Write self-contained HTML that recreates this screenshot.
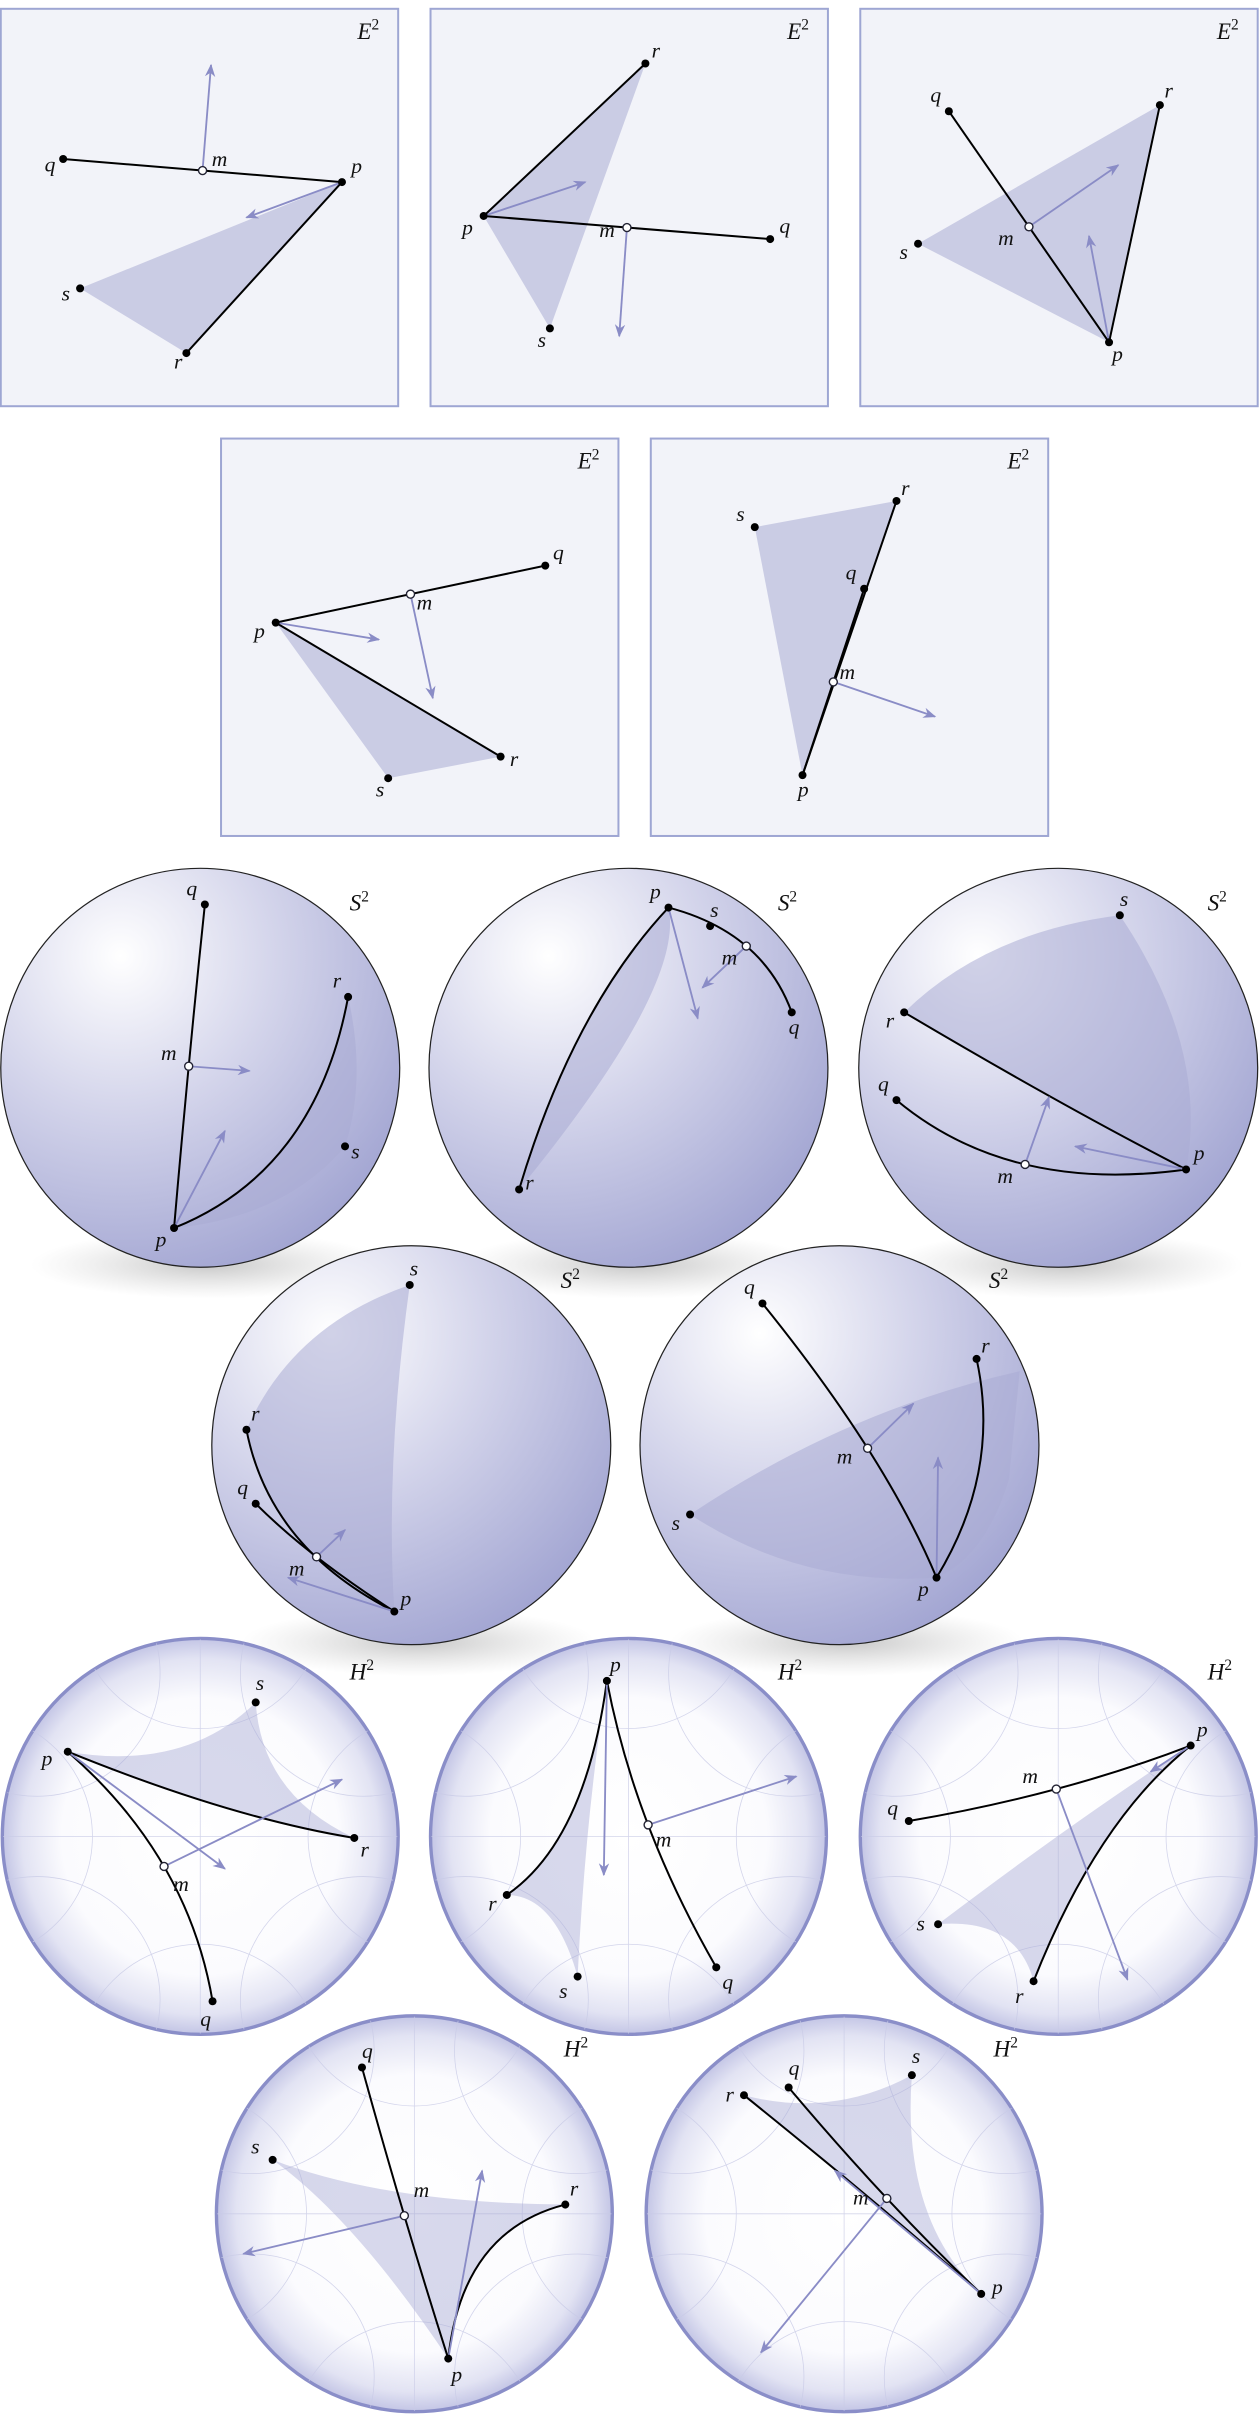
<!DOCTYPE html>
<html><head><meta charset="utf-8"><style>
html,body{margin:0;padding:0;background:#fff;overflow:hidden;width:1260px;height:2419px}
svg{display:block}
text{font-family:"Liberation Serif",serif;font-style:italic;fill:#111}
</style></head><body>
<svg id="fig" width="1260" height="2419" viewBox="0 0 818 1570" xmlns="http://www.w3.org/2000/svg">
<defs>
<radialGradient id="sph" cx="0.3" cy="0.22" r="0.85">
<stop offset="0" stop-color="#ffffff"/><stop offset="0.45" stop-color="#d4d5eb"/><stop offset="1" stop-color="#a2a5d2"/>
</radialGradient>
<radialGradient id="hyp" cx="0.5" cy="0.5" r="0.5">
<stop offset="0" stop-color="#ffffff"/><stop offset="0.7" stop-color="#fbfbfe"/><stop offset="0.9" stop-color="#e2e3f3"/><stop offset="1" stop-color="#c3c5e5"/>
</radialGradient>
<radialGradient id="shd" cx="0.5" cy="0.5" r="0.5">
<stop offset="0" stop-color="#9a9a9a" stop-opacity="0.55"/><stop offset="1" stop-color="#bbbbbb" stop-opacity="0"/>
</radialGradient>
<marker id="ah" viewBox="0 0 10 10" refX="9" refY="5" markerWidth="7" markerHeight="7" orient="auto-start-reverse">
<path d="M0,1 L10,5 L0,9 L3,5 z" fill="#8a8cc6"/></marker>
</defs>
<g id="root"></g>
</svg>
<script>
// panel kinds and positions
const kinds = ["E","E","E","E","E","S","S","S","S","S","H","H","H","H","H"];
const anchors = [[0,5],[279,5],[558,5],[143,284],[422,284],
 [130,693],[408,693],[687,693],[267,938],[545,938],
 [130,1192],[408,1192],[687,1192],[269,1437],[548,1437]];
// points: name -> [x,y,labelDx,labelDy]
const points = [
 {q:[41,103,-12,8],p:[222,118,6,-6],s:[52,187,-12,8],r:[121,229,-8,10]},
 {r:[419,41,4,-4],p:[314,140,-14,12],q:[500,155,6,-4],s:[357,213,-8,12]},
 {q:[616,72,-12,-6],r:[753,68,3,-5],s:[596,158,-12,10],p:[720,222,2,12]},
 {p:[179,404,-14,10],q:[354,367,5,-4],r:[325,491,6,6],s:[252,505,-8,12]},
 {s:[490,342,-12,-4],r:[582,325,3,-4],q:[561,382,-12,-6],p:[521,503,-3,14]},
 {q:[133,587,-12,-6],p:[113,797,-12,12],r:[226,647,-10,-6],s:[224,744,4,8]},
 {p:[434,589,-12,-6],s:[461,601,0,-6],q:[514,657,-2,14],r:[337,772,4,0]},
 {s:[727,594,0,-6],r:[587,657,-12,10],q:[582,714,-12,-6],p:[770,759,5,-6]},
 {s:[266,834,0,-6],r:[160,928,3,-6],q:[166,976,-12,-6],p:[256,1046,4,-4]},
 {q:[495,846,-12,-6],r:[634,882,3,-4],s:[448,983,-12,10],p:[608,1024,-12,12]},
 {p:[44,1137,-17,9],s:[166,1105,0,-8],r:[230,1193,4,12],q:[138,1299,-8,16]},
 {p:[394,1091,2,-6],r:[329,1230,-12,10],s:[375,1283,-12,14],q:[465,1277,4,14]},
 {p:[773,1133,4,-6],q:[590,1182,-14,-4],s:[609,1249,-14,4],r:[671,1286,-12,14]},
 {q:[235,1342,0,-6],s:[177,1402,-14,-4],r:[367,1431,3,-6],p:[291,1531,2,15]},
 {r:[483,1360,-12,4],q:[512,1355,0,-8],s:[592,1347,0,-8],p:[637,1489,7,0]}
];
// m label offsets [dx,dy] and which segment m bisects
const midLabel = [[6,-3],[-18,6],[-20,12],[4,10],[4,-2],
 [-18,-4],[-16,12],[-18,12],[-18,12],[-20,10],
 [6,16],[5,14],[-22,-4],[6,-12],[-22,4]];
const midSeg = [0,1,0,0,1, 0,1,1,1,0, 1,1,0,0,1];
// segments: [from,to,ctrlX,ctrlY]
const segs = [
 [["q","p"],["p","r"]],[["p","r"],["p","q"]],[["q","p"],["r","p"]],[["p","q"],["p","r"]],[["p","r"],["p","q"]],
 [["q","p",122,692],["p","r",205,760]],[["p","r",372,655],["p","q",495,605]],[["r","p",690,718],["q","p",655,775]],
 [["r","p",175,1005],["q","p",200,1010]],[["q","p",575,945],["r","p",650,955]],
 [["p","r",150,1180],["p","q",122,1205]],[["p","r",380,1195],["p","q",412,1185]],[["q","p",690,1165],["p","r",712,1182]],
 [["q","p",262,1440],["r","p",300,1448]],[["r","p",570,1430],["q","p",577,1432]]
];
// shaded regions
const shades = [
 "M52,187 L222,118 L121,229Z","M314,140 L419,41 L357,213Z","M596,158 L753,68 L720,222Z",
 "M179,404 L325,491 L252,505Z","M490,342 L582,325 L521,503Z",
 "M113,797 Q205,760 226,647 Q238,700 224,744 Q185,790 113,797Z",
 "M337,772 Q372,655 434,589 Q445,640 337,772Z",
 "M727,594 Q785,680 770,759 Q690,718 587,657 Q640,605 727,594Z",
 "M266,834 Q250,950 256,1046 Q175,1005 160,928 Q190,860 266,834Z",
 "M448,983 Q550,915 662,890 L655,960 Q640,1010 608,1024 Q520,1030 448,983Z",
 "M44,1137 Q120,1150 166,1105 Q170,1165 230,1193 Q150,1180 44,1137Z",
 "M394,1091 Q380,1195 329,1230 Q360,1230 375,1283 Q380,1180 394,1091Z",
 "M773,1133 Q712,1182 671,1286 Q660,1245 609,1249 Q700,1180 773,1133Z",
 "M177,1402 Q250,1430 367,1431 Q300,1448 291,1531 Q230,1440 177,1402Z",
 "M483,1360 Q540,1375 592,1347 Q585,1440 637,1489 Q570,1430 483,1360Z"
];
// arrows: m-arrow tip, p-arrow tip
const mArrowTip = [[137,42],[402,218],[726,107],[281,453],[607,465],
 [162,695],[456,641],[681,712],[224,993],[593,911],
 [222,1155],[517,1153],[732,1285],[158,1463],[494,1527]];
const pArrowTip = [[160,141],[380,118],[707,153],[246,415],null,
 [146,734],[453,661],[698,744],[187,1024],[609,946],
 [146,1213],[392,1217],[747,1150],[313,1409],[542,1409]];
const NS="http://www.w3.org/2000/svg";
const root=document.getElementById('root');
const defs=document.querySelector('defs');
function mk(tag,attrs,parent){const e=document.createElementNS(NS,tag);for(const k in attrs)e.setAttribute(k,attrs[k]);(parent||root).appendChild(e);return e;}
kinds.forEach((k,i)=>{
 const g=mk('g',{});
 
 
 const [ax,ay]=anchors[i];
 let lx,ly,inner=g;
 if(k==="E"){
  const b=mk('rect',{x:ax+0.5,y:ay+0.5,width:258,height:258,fill:'#f2f3f9',stroke:'#9ea6d3','stroke-width':1.3},g);
  
  
  lx=ax+232;ly=ay+20;
 } else {
  const cp=mk('clipPath',{id:'clip'+i},defs);
  mk('circle',{cx:ax,cy:ay,r:128.5},cp);
  if(k==="S"){
   const sh=mk('ellipse',{cx:ax+5,cy:ay+128,rx:115,ry:22,fill:'url(#shd)'},g);
   
   
   const c=mk('circle',{cx:ax,cy:ay,r:129.5,fill:'url(#sph)',stroke:'#222','stroke-width':0.8},g);
   
   
  } else {
   const c=mk('circle',{cx:ax,cy:ay,r:128.5,fill:'url(#hyp)',stroke:'#8a8ec8','stroke-width':2.2},g);
   
   
  }
  inner=mk('g',{'clip-path':'url(#clip'+i+')'},g);
  if(k==="H"){
   const grid=mk('g',{fill:'none',stroke:'#c9cbe6','stroke-width':0.5,opacity:0.8},inner);
   
   
   mk('line',{x1:ax-128,y1:ay,x2:ax+128,y2:ay},grid);
   mk('line',{x1:ax,y1:ay-128,x2:ax,y2:ay+128},grid);
   for(let a=0;a<8;a++){const t=a*Math.PI/4;mk('circle',{cx:ax+150*Math.cos(t),cy:ay+150*Math.sin(t),r:80},grid);}
  }
  lx=ax+97;ly=ay-102;
 }
 const sp=mk('path',{d:shades[i],fill:'#a9abd4','fill-opacity':k==="H"?0.45:0.55},inner);
 
 
 const P=points[i];
 let M=null;
 segs[i].forEach((s,si)=>{
  const a=P[s[0]],b=P[s[1]];
  let d,mx,my;
  if(s.length>2){d=`M${a[0]},${a[1]} Q${s[2]},${s[3]} ${b[0]},${b[1]}`;mx=.25*a[0]+.5*s[2]+.25*b[0];my=.25*a[1]+.5*s[3]+.25*b[1];}
  else {d=`M${a[0]},${a[1]} L${b[0]},${b[1]}`;mx=(a[0]+b[0])/2;my=(a[1]+b[1])/2;}
  if(si===midSeg[i])M=[mx,my];
  const l=mk('path',{d,fill:'none',stroke:'#000','stroke-width':1.3},g);
  
  
 });
 const tips=[[M,mArrowTip[i]]];
 if(pArrowTip[i])tips.push([P.p,pArrowTip[i]]);
 tips.forEach(([o,t])=>{
  const l=mk('line',{x1:o[0],y1:o[1],x2:t[0],y2:t[1],stroke:'#8a8cc6','stroke-width':1.2,'marker-end':'url(#ah)'},g);
  
  
 });
 for(const n in P){
  const p=P[n];
  const d=mk('circle',{cx:p[0],cy:p[1],r:2.6,fill:'#000'},g);
  
  
  const t=mk('text',{x:p[0]+p[2],y:p[1]+p[3],'font-size':14},g);
  t.textContent=n;
  
  
 }
 const mc=mk('circle',{cx:M[0],cy:M[1],r:2.6,fill:'#fff',stroke:'#223','stroke-width':0.9},g);
 
 
 const mt=mk('text',{x:M[0]+midLabel[i][0],y:M[1]+midLabel[i][1],'font-size':14},g);
 mt.textContent='m';
 
 
 const st=mk('text',{x:lx,y:ly,'font-size':15},g);
 st.textContent=k;
 const sup=mk('tspan',{dy:-6,'font-size':10,'font-style':'normal'},st);
 sup.textContent='2';
 
 
});
</script>
</body></html>
